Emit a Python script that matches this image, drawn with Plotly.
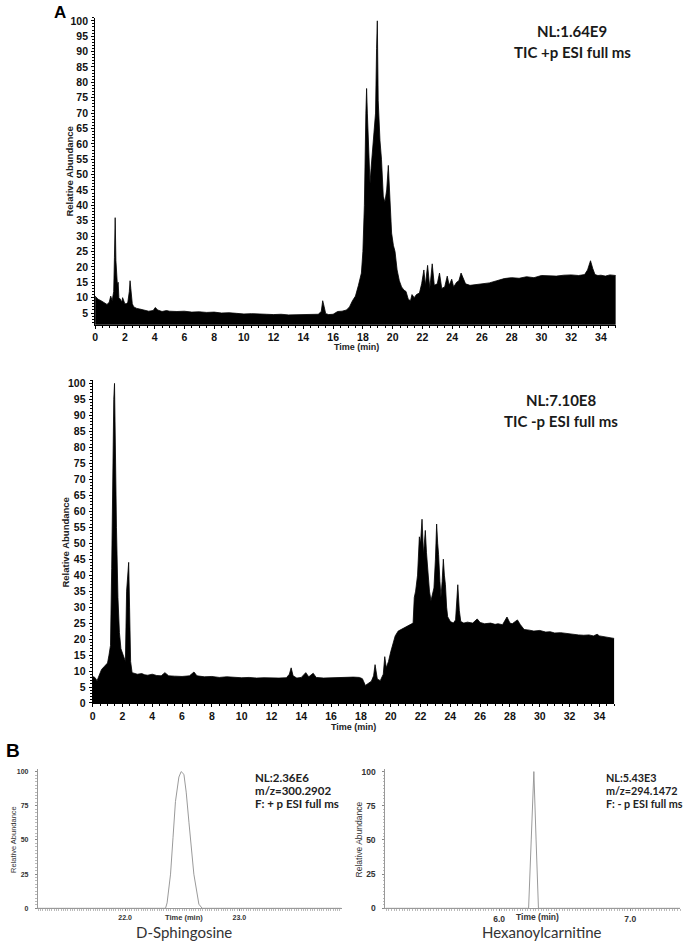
import plotly.graph_objects as go

W, H = 685, 949

# ---------------- Panel A: TIC (+) ----------------
t_pos = [0.0, 0.2, 0.4, 0.6, 0.8, 0.95, 1.05, 1.15, 1.25, 1.3, 1.35, 1.4, 1.45, 1.5, 1.55, 1.6,
         1.7, 1.8, 1.85, 1.9, 2.0, 2.1, 2.2, 2.3, 2.35, 2.4, 2.5, 2.6, 2.8, 3.0, 3.3, 3.6, 3.9,
         4.05, 4.2, 4.5, 4.8, 5.0, 5.5, 6.0, 6.5, 7.0, 7.5, 8.0, 8.5, 9.0, 9.5, 10.0, 10.5, 11.0,
         11.5, 12.0, 12.5, 13.0, 13.5, 14.0, 14.5, 15.0, 15.2, 15.3, 15.4, 15.5, 15.7, 16.0, 16.3,
         16.6, 16.9, 17.1, 17.3, 17.5, 17.7, 17.9, 18.0, 18.1, 18.2, 18.25, 18.3, 18.4, 18.48,
         18.55, 18.65, 18.76, 18.85, 18.92, 18.97, 19.03, 19.1, 19.15, 19.25, 19.37, 19.48, 19.6,
         19.71, 19.8, 19.93, 20.05, 20.16, 20.3, 20.45, 20.6, 20.75, 20.9, 21.05, 21.2, 21.3,
         21.45, 21.6, 21.8, 21.95, 22.1, 22.2, 22.35, 22.5, 22.66, 22.8, 23.0, 23.15, 23.3, 23.5,
         23.67, 23.8, 23.97, 24.1, 24.3, 24.45, 24.6, 24.75, 24.9, 25.2, 25.5, 26.0, 26.5, 27.0,
         27.5, 28.0, 28.5, 29.0, 29.5, 30.0, 30.5, 31.0, 31.5, 32.0, 32.5, 32.9, 33.1, 33.3,
         33.45, 33.6, 33.8, 34.0, 34.3, 34.6, 35.0]
ra_pos = [10.5, 9.5, 9.0, 8.5, 7.8, 8.5, 10.5, 9.0, 12.0, 23.0, 36.0, 22.0, 17.0, 14.0, 15.0, 10.0,
          9.5, 8.5, 10.0, 9.0, 8.0, 8.0, 8.5, 12.0, 15.5, 13.0, 8.0, 7.0, 6.5, 6.3, 6.0, 5.6, 5.8,
          6.8, 6.0, 5.5, 5.8, 5.6, 5.5, 5.6, 5.3, 5.4, 5.2, 5.3, 5.0, 5.1, 4.9, 4.7, 4.8, 4.6,
          4.6, 4.5, 4.6, 4.4, 4.5, 4.5, 4.6, 4.6, 5.5, 9.0, 7.0, 4.8, 4.5, 4.6, 5.5,
          5.6, 6.0, 7.0, 9.0, 10.5, 14.0, 18.0, 25.0, 40.0, 70.0, 78.0, 70.0, 60.0, 47.0,
          52.0, 58.0, 63.0, 70.0, 91.0, 100.0, 74.0, 65.0, 61.0, 55.0, 43.0, 41.0, 45.0,
          53.0, 45.0, 31.0, 27.0, 25.0, 19.0, 15.5, 13.5, 12.5, 12.0, 9.5, 9.0, 11.0,
          10.0, 11.0, 11.5, 14.5, 19.0, 14.0, 20.5, 13.0, 21.0, 14.0, 14.5, 18.0, 13.0, 13.5,
          17.0, 14.0, 16.0, 13.5, 15.0, 15.5, 18.0, 16.0, 14.5, 14.0, 14.2, 14.5, 14.8, 15.5,
          16.2, 16.5, 16.3, 16.8, 16.5, 17.2, 17.0, 17.0, 17.3, 17.4, 17.2, 17.5, 19.0, 22.0,
          19.5, 17.5, 17.2, 17.3, 17.0, 17.4, 17.2]

# ---------------- Panel A: TIC (-) ----------------
t_neg = [0.0, 0.15, 0.3, 0.45, 0.6, 0.8, 1.0, 1.1, 1.2, 1.28, 1.35, 1.42, 1.47, 1.52, 1.6, 1.7,
         1.8, 1.9, 2.0, 2.1, 2.2, 2.28, 2.35, 2.42, 2.48, 2.55, 2.65, 2.8, 3.0, 3.3, 3.5, 3.7,
         4.0, 4.3, 4.6, 4.85, 5.1, 5.5, 6.0, 6.5, 6.8, 7.0, 7.5, 8.0, 8.5, 9.0, 9.5, 10.0, 10.5,
         11.0, 11.5, 12.0, 12.5, 13.0, 13.2, 13.32, 13.45, 13.7, 14.0, 14.3, 14.5, 14.8, 15.0,
         15.5, 16.0, 16.5, 17.0, 17.5, 17.9, 18.1, 18.3, 18.5, 18.7, 18.85, 18.95, 19.1, 19.3,
         19.5, 19.6, 19.7, 19.85, 20.0, 20.15, 20.3, 20.5, 20.7, 20.9, 21.1, 21.3, 21.5, 21.58,
         21.67, 21.8, 21.92, 22.0, 22.1, 22.2, 22.32, 22.4, 22.48, 22.6, 22.7, 22.8, 22.9, 23.0,
         23.08, 23.15, 23.21, 23.3, 23.37, 23.45, 23.53, 23.6, 23.67, 23.75, 23.82, 24.0, 24.2,
         24.35, 24.45, 24.5, 24.6, 24.7, 24.9, 25.15, 25.5, 25.8, 26.0, 26.3, 26.7, 27.0, 27.2,
         27.5, 27.8, 28.0, 28.15, 28.3, 28.5, 28.7, 28.95, 29.3, 29.6, 30.0, 30.4, 30.7, 31.0,
         31.4, 31.8, 32.2, 32.6, 32.95, 33.3, 33.6, 33.85, 34.0, 34.3, 34.6, 35.0]
ra_neg = [8.3, 8.0, 7.0, 8.5, 10.5, 11.5, 12.5, 15.0, 18.0, 42.0, 74.0, 95.0, 100.0, 78.0, 55.0, 33.0,
          22.0, 17.0, 15.5, 14.5, 13.0, 35.0, 42.0, 44.0, 30.0, 13.0, 9.5, 9.3, 9.0, 9.2, 8.8, 8.7,
          9.0, 8.6, 8.5, 9.5, 8.5, 8.4, 8.3, 8.5, 9.7, 8.5, 8.2, 8.3, 8.0, 8.2, 8.0, 7.9, 8.0,
          7.8, 7.9, 7.8, 7.8, 7.9, 9.0, 11.0, 8.5, 7.8, 8.0, 9.5, 8.2, 9.3, 8.0,
          7.8, 7.9, 8.0, 7.9, 8.1, 8.0, 7.6, 5.5, 6.3, 6.8, 8.5, 12.0, 7.5, 7.0,
          9.0, 14.5, 11.0, 13.0, 16.0, 19.0, 21.0, 22.5, 23.0, 23.5, 24.0, 24.5, 25.0, 33.0,
          35.0, 40.0, 52.0, 50.0, 57.5, 46.5, 54.0, 47.0, 41.0, 35.0, 32.0, 34.0, 36.0, 45.0,
          56.0, 50.0, 46.5, 38.0, 33.0, 38.0, 45.0, 40.0, 37.0, 30.0, 27.0, 25.5, 25.0,
          26.0, 34.0, 37.0, 29.0, 25.5, 25.0, 25.3, 25.0, 26.3, 25.2, 24.8, 25.0, 24.6, 24.8,
          24.5, 26.9, 25.0, 24.8, 25.2, 26.0, 24.5, 23.0, 22.8, 22.5, 22.7, 22.2, 22.3, 21.9,
          22.0, 21.7, 21.5, 21.3, 21.2, 21.3, 21.0, 21.5, 21.0, 20.7, 20.5, 20.2]

# ---------------- Panel B: extracted ion chromatograms ----------------
t_sph = [21.237, 22.354, 22.368, 22.398, 22.42, 22.441, 22.471, 22.491, 22.515, 22.535, 22.559,
         22.58, 22.602, 22.646, 22.675, 23.894]
ra_sph = [0, 0, 4, 25, 52, 78, 96, 100, 98, 85, 63, 42, 25, 3, 0, 0]

t_hex = [5.132, 6.225, 6.245, 6.262, 6.265, 6.282, 6.30, 7.38]
ra_hex = [0, 0, 50, 100, 100, 50, 0, 0]

pos_label = ["NL:1.64E9", "TIC +p ESI full ms"]
neg_label = ["NL:7.10E8", "TIC -p ESI full ms"]
sph_label = ["NL:2.36E6", "m/z=300.2902", "F: + p ESI full ms"]
hex_label = ["NL:5.43E3", "m/z=294.1472", "F: - p ESI full ms"]
compounds = ["D-Sphingosine", "Hexanoylcarnitine"]


def px(x):
    return x / W


def py(y):
    return 1 - y / H


ARIAL = "Liberation Sans, Arial, sans-serif"
CAL = "Lato, Open Sans, sans-serif"

fig = go.Figure()
fig.add_trace(go.Scatter(x=t_pos, y=ra_pos, mode="lines", fill="tozeroy",
                         line=dict(color="black", width=0.8), fillcolor="black",
                         xaxis="x", yaxis="y", showlegend=False))
fig.add_trace(go.Scatter(x=t_neg, y=ra_neg, mode="lines", fill="tozeroy",
                         line=dict(color="black", width=0.8), fillcolor="black",
                         xaxis="x2", yaxis="y2", showlegend=False))
fig.add_trace(go.Scatter(x=t_sph, y=ra_sph, mode="lines",
                         line=dict(color="#9a9a9a", width=1),
                         xaxis="x3", yaxis="y3", showlegend=False))
fig.add_trace(go.Scatter(x=t_hex, y=ra_hex, mode="lines",
                         line=dict(color="#9a9a9a", width=1),
                         xaxis="x4", yaxis="y4", showlegend=False))

big_tick = dict(family=ARIAL, size=10.5, color="#111", weight="bold")


def tic_x(domain, anchor):
    return dict(domain=domain, range=[0, 35], anchor=anchor, tickmode="linear", tick0=0, dtick=2,
                ticks="outside", ticklen=3, tickwidth=1, tickcolor="black",
                showline=True, linecolor="black", linewidth=1, showgrid=False, zeroline=False,
                tickfont=big_tick, ticklabelstandoff=0,
                minor=dict(dtick=0.5, ticks="outside", ticklen=2, tickcolor="black"))


def tic_y(domain, rng, anchor):
    return dict(domain=domain, range=rng, anchor=anchor, tickmode="linear", tick0=0, dtick=5,
                ticks="outside", ticklen=3, tickwidth=1, tickcolor="black",
                showline=True, linecolor="black", linewidth=1, showgrid=False, zeroline=False,
                tickfont=big_tick, ticklabelstandoff=1,
                minor=dict(dtick=1, ticks="outside", ticklen=2, tickcolor="black"))


def eic_x(domain, rng, vals, anchor, fs):
    return dict(domain=domain, range=rng, anchor=anchor, tickmode="array", tickvals=vals,
                ticktext=[f"{v:.1f}" for v in vals],
                ticks="outside", ticklen=2, tickcolor="#888",
                showline=True, linecolor="#999", linewidth=1, showgrid=False, zeroline=False,
                tickfont=dict(family=ARIAL, size=fs, color="#333", weight="bold"),
                minor=dict(dtick=0.02, ticks="outside", ticklen=1.5, tickcolor="#bbb"))


def eic_y(domain, anchor, fs):
    return dict(domain=domain, range=[0, 102], anchor=anchor, tickmode="array",
                tickvals=[0, 25, 50, 75, 100],
                ticks="outside", ticklen=2, tickcolor="#888",
                showline=True, linecolor="#999", linewidth=1, showgrid=False, zeroline=False,
                tickfont=dict(family=ARIAL, size=fs, color="#333", weight="bold"),
                ticklabelstandoff=5,
                minor=dict(dtick=2.5, ticks="outside", ticklen=1.5, tickcolor="#bbb"))


fig.update_layout(
    width=W, height=H, autosize=False,
    margin=dict(l=0, r=0, t=0, b=0),
    paper_bgcolor="white", plot_bgcolor="white",
    xaxis=tic_x([px(92.5), px(615.5)], "y"),
    yaxis=tic_y([py(324.8), py(14.9)], [1.2, 101], "x"),
    xaxis2=tic_x([px(90), px(614)], "y2"),
    yaxis2=tic_y([py(706.7), py(380.8)], [0, 101], "x2"),
    xaxis3=eic_x([px(35), px(340)], [21.237, 23.894], [22.0, 23.0], "y3", 7),
    yaxis3=eic_y([py(914), py(773.2)], "x3", 7),
    xaxis4=eic_x([px(384), px(680)], [5.132, 7.38], [6.0, 7.0], "y4", 8.5),
    yaxis4=eic_y([py(914), py(773.2)], "x4", 8.5),
)

ann = []


def add(text, x, y, size, family=ARIAL, weight="normal", color="#111", xanchor="center",
        angle=0):
    ann.append(dict(text=text, x=px(x), y=py(y), xref="paper", yref="paper",
                    xanchor=xanchor, yanchor="middle", showarrow=False, textangle=angle,
                    font=dict(family=family, size=size, color=color, weight=weight)))


# Panel letters
add("A", 57, 10, 17, weight="bold", color="black")
add("B", 1, 755, 19, weight="bold", color="black", xanchor="left")

# Panel A titles
add(pos_label[0], 572, 28, 15, family=CAL, weight="bold", color="#1a1a1a")
add(pos_label[1], 572, 49, 15, family=CAL, weight="bold", color="#1a1a1a")
add(neg_label[0], 560, 401, 15, family=CAL, weight="bold", color="#1a1a1a")
add(neg_label[1], 560, 422, 15, family=CAL, weight="bold", color="#1a1a1a")

# Axis titles panel A
add("Relative Abundance", 66.5, 170, 9.5, weight="bold", color="#222", angle=-90)
add("Relative Abundance", 63, 545, 9.5, weight="bold", color="#222", angle=-90)
add("Time (min)", 355, 347, 9, weight="bold", color="#222")
add("Time (min)", 352, 731, 9, weight="bold", color="#222")

# Panel B texts
for i, s in enumerate(sph_label):
    add(s, 251.5, 781.7 + 13 * i, 11.5, family=CAL, weight="bold", color="#222", xanchor="left")
for i, s in enumerate(hex_label):
    add(s, 604, 781.7 + 13 * i, 10.8, family=CAL, weight="bold", color="#222", xanchor="left")

add("Relative Abundance", 11, 844, 7.5, color="#333", angle=-90)
add("Relative Abundance", 358, 844, 8.5, color="#333", angle=-90)
add("Time (min)", 181.7, 923, 7.5, weight="bold", color="#333")
add("Time (min)", 536.7, 923, 8.5, weight="bold", color="#333")
add(compounds[0], 181.7, 937.5, 15, family=CAL, color="#333")
add(compounds[1], 541.7, 937.5, 15, family=CAL, color="#333")

fig.update_layout(annotations=ann)
fig.write_html("out.html", config={"displayModeBar": False},
               post_script="document.body.style.margin='0';document.body.style.padding='0';")
